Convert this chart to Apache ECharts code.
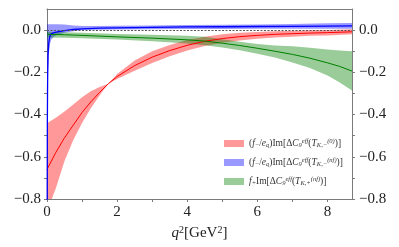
<!DOCTYPE html>
<html><head><meta charset="utf-8">
<script src="https://cdn.jsdelivr.net/npm/echarts@6/dist/echarts.min.js"></script>
<style>html,body{margin:0;padding:0;background:#fff}#c{width:399px;height:247px}</style>
</head><body><div id="c"></div><script>
// ---- data ----
const q2Red = [0,0.25,0.5,0.75,1.0,1.25,1.5,1.75,2.0,2.5,3.0,3.5,4.0,4.5,5.0,5.5,6.0,6.5,7.0,7.5,8.0,8.7];
const redCentral = [-0.66,-0.58,-0.51,-0.45,-0.39,-0.34,-0.295,-0.254,-0.22,-0.168,-0.128,-0.097,-0.072,-0.053,-0.04,-0.031,-0.025,-0.02,-0.017,-0.014,-0.012,-0.008];
const redUpper = [-0.441,-0.415,-0.385,-0.352,-0.318,-0.29,-0.27,-0.254,-0.208,-0.144,-0.1,-0.07,-0.047,-0.031,-0.02,-0.013,-0.009,-0.005,-0.003,-0.001,0.001,0.004];
const redLower = [-0.86,-0.75,-0.62,-0.52,-0.44,-0.37,-0.31,-0.254,-0.232,-0.192,-0.156,-0.124,-0.097,-0.075,-0.06,-0.049,-0.041,-0.035,-0.031,-0.027,-0.025,-0.02];

const q2Blue = [0.003,0.006,0.01,0.015,0.02,0.03,0.05,0.08,0.12,0.2,0.3,0.5,0.75,1,1.5,2,3,4,5,6,7,8,8.7];
const blueCentral = [-1.2,-0.75,-0.45,-0.3,-0.2,-0.12,-0.06,-0.03,-0.018,-0.012,-0.008,-0.002,0.003,0.006,0.009,0.011,0.013,0.015,0.016,0.017,0.018,0.019,0.02];
const blueUpper = [0.028,0.028,0.028,0.028,0.028,0.028,0.028,0.028,0.028,0.028,0.028,0.026,0.022,0.02,0.02,0.021,0.022,0.024,0.025,0.027,0.029,0.032,0.034];
const blueLower = [-1.6,-1.1,-0.7,-0.48,-0.35,-0.22,-0.12,-0.07,-0.045,-0.03,-0.022,-0.012,-0.005,0.0,0.002,0.003,0.004,0.005,0.005,0.006,0.006,0.006,0.006];

const q2Green = [0,0.5,1,2,3,4,4.5,5,5.5,6,6.5,7,7.5,8,8.35,8.7];
const greenCentral = [-0.02,-0.022,-0.025,-0.032,-0.038,-0.046,-0.052,-0.062,-0.073,-0.086,-0.1,-0.115,-0.133,-0.155,-0.172,-0.194];
const greenUpper = [-0.008,-0.01,-0.012,-0.018,-0.022,-0.027,-0.032,-0.043,-0.055,-0.066,-0.073,-0.077,-0.084,-0.092,-0.097,-0.1];
const greenLower = [-0.035,-0.036,-0.038,-0.045,-0.053,-0.063,-0.072,-0.082,-0.095,-0.112,-0.13,-0.153,-0.18,-0.215,-0.248,-0.286];

const xTicks = [0,1,2,3,4,5,6,7,8];
const xTickLabels = [0,2,4,6,8];
const yTicks = [-0.8,-0.7,-0.6,-0.5,-0.4,-0.3,-0.2,-0.1,0.0];
const yTickLabels = [-0.8,-0.6,-0.4,-0.2,0.0];

const legendNames = ['redBand','blueBand','greenBand'];
const legendLabels = {
  redBand: '{r|(}{i|f}{sub|−}{r|/}{i|e}{sub|q}{r|)Im[Δ}{i|C}{sub|9}{sup|eff}{r|(}{i|T}{sub|K,−}{sup|(0)}{r|)]}',
  blueBand: '{r|(}{i|f}{sub|−}{r|/}{i|e}{sub|q}{r|)Im[Δ}{i|C}{sub|9}{sup|eff}{r|(}{i|T}{sub|K,−}{sup|(nf)}{r|)]}',
  greenBand: '{i|f}{sub|+}{r|Im[Δ}{i|C}{sub|9}{sup|eff}{r|(}{i|T}{sub|K,+}{sup|(nf)}{r|)]}'
};
const bandColors = {redBand:'rgba(255,0,0,0.4)', blueBand:'rgba(0,0,255,0.4)', greenBand:'rgba(0,128,0,0.4)'};
const lineColors = {red:'#ff0000', blue:'#0000ff', green:'#008000'};

// ---- build ----
const pairs = (xs, ys) => xs.map((x,i)=>[x, ys[i]]);

function band(id, xs, lo, hi, color){
  const rows = xs.map((x,i)=>[x, lo[i], hi[i]]);
  return {
    type:'custom', name:id, clip:true, silent:true, z:1,
    itemStyle:{color:color},
    encode:{x:0, y:[1,2]},
    data: rows,
    renderItem: function(params, api){
      if (params.dataIndex !== 0) return null;
      const top = rows.map(r => api.coord([r[0], r[2]]));
      const bot = rows.map(r => api.coord([r[0], r[1]])).reverse();
      const cs = params.coordSys;
      return {
        type:'polygon',
        shape:{points: top.concat(bot)},
        style:{fill:color, stroke:null},
        clipPath:{type:'rect', shape:{x:cs.x, y:cs.y, width:cs.width, height:cs.height}}
      };
    }
  };
}
function central(xs, ys, color, w){
  return {type:'line', data:pairs(xs, ys), symbol:'none', lineStyle:{color:color, width:w}, itemStyle:{color:color}, silent:true, z:3};
}
const fmtX = v => String(Math.round(v));
const fmtY = v => (v < -1e-9 ? '−' : '') + Math.abs(v).toFixed(1);

const axisColor = '#7a7a7a';
const labelFont = {fontFamily:'Liberation Serif', fontSize:15, color:'#222'};

const series = [
  band('redBand', q2Red, redLower, redUpper, bandColors.redBand),
  Object.assign(central(q2Red, redCentral, lineColors.red, 1), {
     markLine:{silent:true, symbol:['none','none'], label:{show:false},
       lineStyle:{type:[2,1.5], color:'#555', width:1}, data:[{yAxis:0}]}}),
  band('blueBand', q2Blue, blueLower, blueUpper, bandColors.blueBand),
  central(q2Blue, blueCentral, lineColors.blue, 1.3),
  band('greenBand', q2Green, greenLower, greenUpper, bandColors.greenBand),
  central(q2Green, greenCentral, lineColors.green, 1)
];

const chart = echarts.init(document.getElementById('c'), null, {renderer:'canvas'});
chart.setOption({
  animation:false,
  backgroundColor:'#fff',
  grid:{left:47, right:47, top:9, bottom:48, containLabel:false},
  xAxis:[{
    type:'value', min:0, max:8.7, position:'bottom',
    axisLine:{show:true, onZero:false, lineStyle:{color:axisColor, width:1}},
    axisTick:{show:true, inside:false, length:3, customValues:xTicks, lineStyle:{color:axisColor}},
    axisLabel:Object.assign({customValues:xTickLabels, formatter:fmtX, margin:6}, labelFont),
    splitLine:{show:false},
    name:'{i|q}{sup|2}{r|[GeV}{sup|2}{r|]}', nameLocation:'middle', nameGap:20,
    nameTextStyle:{fontFamily:'Liberation Serif', fontSize:15, color:'#222', lineHeight:16,
      rich:{r:{fontFamily:'Liberation Serif', fontSize:15, color:'#222'},
            i:{fontFamily:'Liberation Serif', fontStyle:'italic', fontSize:15, color:'#222'},
            sup:{fontFamily:'Liberation Serif', fontSize:10, color:'#222', verticalAlign:'top'}}}
  },{
    type:'value', min:0, max:8.7, position:'top',
    axisLine:{show:true, onZero:false, lineStyle:{color:axisColor, width:1}},
    axisTick:{show:false}, axisLabel:{show:false}, splitLine:{show:false}
  }],
  yAxis:[{
    type:'value', min:-0.8, max:0.1, position:'left',
    axisLine:{show:true, onZero:false, lineStyle:{color:axisColor, width:1}},
    axisTick:{show:true, inside:false, length:3, customValues:yTicks, lineStyle:{color:axisColor}},
    axisLabel:Object.assign({customValues:yTickLabels, formatter:fmtY, margin:6}, labelFont),
    splitLine:{show:false}
  },{
    type:'value', min:-0.8, max:0.1, position:'right',
    axisLine:{show:true, onZero:false, lineStyle:{color:axisColor, width:1}},
    axisTick:{show:true, inside:false, length:3, customValues:yTicks, lineStyle:{color:axisColor}},
    axisLabel:Object.assign({customValues:yTickLabels, formatter:fmtY, margin:7}, labelFont),
    splitLine:{show:false}
  }],
  legend:{
    orient:'vertical', left:219, top:133, itemWidth:20, itemHeight:7, itemGap:8,
    data:legendNames.map(n=>({name:n, icon:'rect', itemStyle:{color:bandColors[n], borderWidth:0}})),
    formatter: n => legendLabels[n],
    textStyle:{fontFamily:'Liberation Serif', fontSize:9.5, color:'#333', lineHeight:11,
      rich:{r:{fontFamily:'Liberation Serif', fontSize:9.5, color:'#333'},
            i:{fontFamily:'Liberation Serif', fontStyle:'italic', fontSize:9.5, color:'#333'},
            sub:{fontFamily:'Liberation Serif', fontStyle:'italic', fontSize:6.5, color:'#333', verticalAlign:'bottom'},
            sup:{fontFamily:'Liberation Serif', fontStyle:'italic', fontSize:6.5, color:'#333', verticalAlign:'top'}}},
    selectedMode:false
  },
  series: series
});
</script></body></html>
